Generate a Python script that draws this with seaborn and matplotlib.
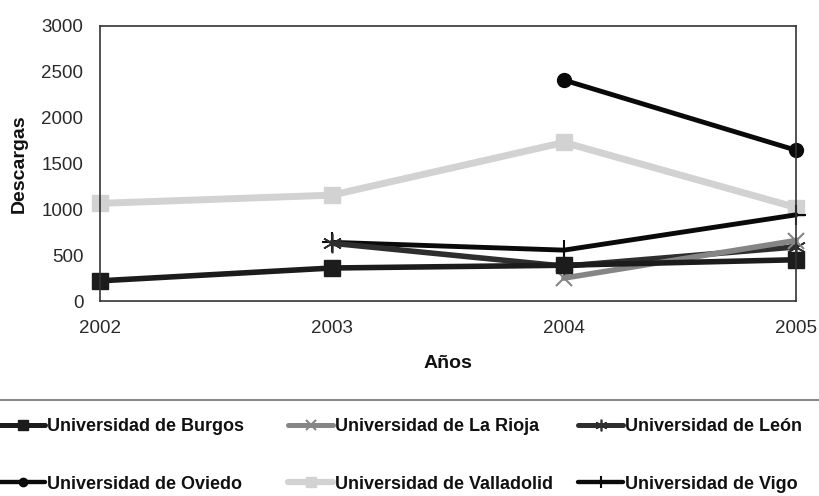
import matplotlib
matplotlib.use("Agg")
import matplotlib.pyplot as plt
import seaborn as sns
import numpy as np
import pandas as pd
from matplotlib.lines import Line2D

sns.set_style("white")
plt.rcParams['font.family'] = ['Liberation Sans', 'DejaVu Sans']

years = [2002, 2003, 2004, 2005]
burgos = [220, 360, 390, 450]
la_rioja = [np.nan, np.nan, 250, 660]
leon = [np.nan, 630, 380, 590]
oviedo = [np.nan, np.nan, 2410, 1645]
valladolid = [1065, 1155, 1730, 1020]
vigo = [np.nan, 640, 555, 940]

labels = ["Universidad de Burgos", "Universidad de La Rioja", "Universidad de León",
          "Universidad de Oviedo", "Universidad de Valladolid", "Universidad de Vigo"]
values = [burgos, la_rioja, leon, oviedo, valladolid, vigo]
styles = [
    dict(color="#1c1c1c", marker="s", markersize=11, linewidth=4),
    dict(color="#858585", marker="x", markersize=11, linewidth=4, markeredgewidth=1.5),
    dict(color="#2e2e2e", marker=(6, 2, 0), markersize=14, linewidth=4, markeredgewidth=1.2),
    dict(color="#0a0a0a", marker="o", markersize=10, linewidth=3.5),
    dict(color="#d2d2d2", marker="s", markersize=12, linewidth=5),
    dict(color="#0a0a0a", marker="+", markersize=14, linewidth=3.5, markeredgewidth=1.5),
]

fig = plt.figure(figsize=(8.19, 4.96), dpi=100)
ax = fig.add_axes([100/819, 1-301/496, 696/819, 275/496])

draw_order = [4, 3, 5, 2, 1, 0]
for i in draw_order:
    df = pd.DataFrame({"Año": years, "Descargas": values[i]}).dropna()
    st = styles[i]
    sns.lineplot(data=df, x="Año", y="Descargas", ax=ax, color=st["color"],
                 linewidth=st["linewidth"], marker=st["marker"],
                 markersize=st["markersize"], markeredgecolor=st["color"],
                 markeredgewidth=st.get("markeredgewidth", 1), legend=False,
                 clip_on=False)

ax.set_xlim(2002, 2005)
ax.set_ylim(0, 3000)
ax.set_xticks(years)
ax.set_xticklabels([str(y) for y in years])
ax.set_yticks(range(0, 3001, 500))
ax.tick_params(axis="both", labelsize=13.5, direction="out", length=4, width=1,
               color="#222222", labelcolor="#2a2a2a", pad=8)
ax.tick_params(axis="x", direction="inout", length=10, pad=9)
for s in ax.spines.values():
    s.set_color("#333333")
    s.set_linewidth(1.2)
ax.set_xlabel("Años", fontsize=14, fontweight="bold", labelpad=13, color="#111111")
ax.set_ylabel("Descargas", fontsize=14, fontweight="bold", labelpad=10, color="#111111")
ax.grid(False)

# separator line above legend
fig.add_artist(Line2D([0, 1], [1-400/496, 1-400/496], transform=fig.transFigure,
                      color="#888888", linewidth=1.5))

handles = [Line2D([], [], color=st["color"], linewidth=st["linewidth"]*0.9, marker=st["marker"],
                  markersize=st["markersize"]*0.6, markeredgecolor=st["color"],
                  markeredgewidth=st.get("markeredgewidth", 1)) for st in styles]

# legend laid out row-wise: three columns, each a small two-row legend
col_x = [0, 288, 578]
for c in range(3):
    idx = [c, c + 3]
    leg = fig.legend([handles[k] for k in idx], [labels[k] for k in idx],
                     loc="upper left", bbox_to_anchor=(col_x[c]/819, 1-418/496),
                     frameon=False, prop=dict(size=13, weight="bold"),
                     handlelength=2.5, handletextpad=0.1, labelspacing=2.25,
                     borderaxespad=0, borderpad=0)
    for t in leg.get_texts():
        t.set_color("#111111")

fig.savefig("out.png", dpi=100)
